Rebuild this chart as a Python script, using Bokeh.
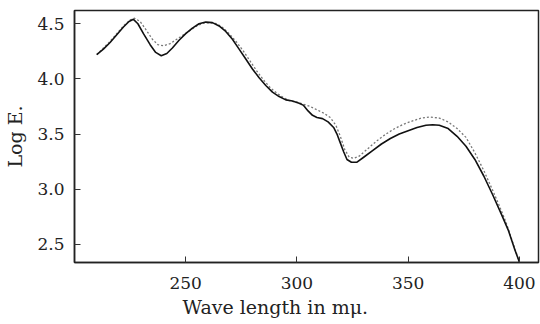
from bokeh.plotting import figure
from bokeh.models import FixedTicker, NumeralTickFormatter, Range1d, Title
from bokeh.embed import file_html
from bokeh.resources import INLINE

# Solid curve
wl_solid = [210, 213, 216, 219, 222, 224.5, 226.5, 228.5, 231, 234, 236.5, 239, 241.5, 244, 247,
            250, 253, 256, 259, 262, 265, 268, 271, 274, 277, 280, 283, 286, 289, 292, 295, 298,
            301, 303, 305, 307, 309, 311.5, 314, 316.5, 318, 319.5, 321, 322.5, 324.5, 327, 330,
            334, 338, 342, 346, 350, 354, 358, 361, 364, 368, 372, 376, 380, 384, 388, 392, 395,
            398, 400]
loge_solid = [4.22, 4.27, 4.33, 4.40, 4.47, 4.52, 4.54, 4.50, 4.41, 4.31, 4.24, 4.21, 4.23, 4.28, 4.35,
              4.41, 4.46, 4.50, 4.515, 4.51, 4.48, 4.43, 4.36, 4.27, 4.18, 4.09, 4.01, 3.94, 3.88, 3.84,
              3.81, 3.80, 3.78, 3.76, 3.71, 3.67, 3.65, 3.64, 3.61, 3.56, 3.50, 3.42, 3.34, 3.27, 3.245,
              3.245, 3.29, 3.35, 3.41, 3.46, 3.50, 3.53, 3.56, 3.58, 3.585, 3.58, 3.55, 3.48, 3.39, 3.27,
              3.12, 2.95, 2.77, 2.63, 2.45, 2.34]

# Dotted curve
wl_dotted = [210, 213, 216, 219, 222, 225, 227, 229.5, 232, 235, 237.5, 240, 243, 246, 249, 252, 255,
             258, 261, 264, 267, 270, 273, 276, 279, 282, 285, 288, 291, 294, 297, 300, 303, 306, 309,
             312, 315, 317.5, 319.5, 321.5, 323.5, 325.5, 328, 332, 336, 340, 344, 348, 352, 356, 360,
             364, 368, 372, 376, 380, 384, 388, 391, 394, 397, 400]
loge_dotted = [4.22, 4.28, 4.34, 4.41, 4.48, 4.535, 4.55, 4.52, 4.45, 4.36, 4.31, 4.30, 4.32, 4.36, 4.40,
               4.44, 4.48, 4.505, 4.51, 4.50, 4.46, 4.40, 4.33, 4.25, 4.16, 4.07, 3.99, 3.92, 3.87, 3.83,
               3.80, 3.79, 3.77, 3.75, 3.72, 3.69, 3.65, 3.58, 3.48, 3.36, 3.29, 3.28, 3.30, 3.37, 3.44,
               3.50, 3.55, 3.59, 3.62, 3.645, 3.655, 3.645, 3.61, 3.55, 3.47, 3.33, 3.17, 2.99, 2.85,
               2.70, 2.52, 2.34]

x_ticks = [250, 300, 350, 400]
y_ticks = [2.5, 3.0, 3.5, 4.0, 4.5]

FONT = "DejaVu Serif"

p = figure(width=540, height=324, output_backend="svg", toolbar_location=None,
           x_range=Range1d(200, 408.6), y_range=Range1d(2.336, 4.62),
           min_border_left=74, min_border_right=2, min_border_top=10, min_border_bottom=62)

p.line(wl_dotted, loge_dotted, line_color="#777777", line_width=1.3, line_dash="2 2")
p.line(wl_solid, loge_solid, line_color="#111111", line_width=1.6)

p.xgrid.visible = False
p.ygrid.visible = False
p.outline_line_color = "#222222"
p.outline_line_width = 1.5

p.xaxis.ticker = FixedTicker(ticks=x_ticks)
p.yaxis.ticker = FixedTicker(ticks=y_ticks)
p.yaxis.formatter = NumeralTickFormatter(format="0.0")
p.yaxis.axis_label = "Log E."

for ax in (p.xaxis, p.yaxis):
    ax.axis_line_color = "#222222"
    ax.axis_line_width = 1.5
    ax.major_tick_in = 6
    ax.major_tick_out = 0
    ax.major_tick_line_color = "#333333"
    ax.minor_tick_line_color = None
    ax.major_label_text_font = FONT
    ax.major_label_text_font_size = "17px"
    ax.major_label_text_color = "#222222"
    ax.axis_label_text_font = FONT
    ax.axis_label_text_font_size = "19px"
    ax.axis_label_text_font_style = "normal"
    ax.axis_label_text_color = "#222222"

p.xaxis.major_label_standoff = 14
p.yaxis.major_label_standoff = 10
p.yaxis.axis_label_standoff = 8

xtitle = Title(text="Wave length in mμ.", align="left", offset=108, standoff=4,
               text_font=FONT, text_font_size="19px", text_font_style="normal",
               text_color="#222222")
p.add_layout(xtitle, "below")

open("out.html", "w").write(file_html(p, INLINE))
